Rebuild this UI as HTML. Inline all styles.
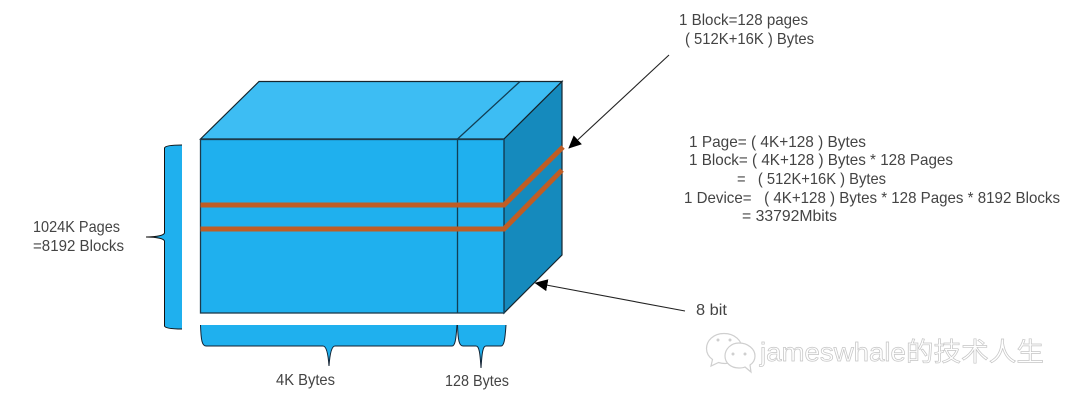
<!DOCTYPE html>
<html><head><meta charset="utf-8"><style>
html,body{margin:0;padding:0;background:#fff;width:1080px;height:404px;overflow:hidden}
svg{display:block}
text{font-family:"Liberation Sans","Noto Sans CJK SC",sans-serif;font-size:16px;fill:#444;white-space:pre}
</style></head><body>
<svg width="1080" height="404" viewBox="0 0 1080 404" xmlns="http://www.w3.org/2000/svg">
<defs><marker id="a" markerWidth="13" markerHeight="12" refX="12" refY="6" orient="auto" markerUnits="userSpaceOnUse"><path d="M0 0L13 6L0 12Z" fill="#000"/></marker></defs>
<!-- cube -->
<polygon points="200.5,139 259,81.5 562,81.5 504,139" fill="#3dbdf3" stroke="#16252d" stroke-width="1.200"/>
<polygon points="504,139 562,81.5 562,255 504,313" fill="#158abd" stroke="#16252d" stroke-width="1.200"/>
<rect x="200.5" y="139.5" width="303.5" height="173.5" fill="#1fb0ee" stroke="#1d3a4a" stroke-width="1.300"/>
<path d="M457.500 139.500V313M457.500 139L520 81.500" fill="none" stroke="#123f55" stroke-width="1.300"/>
<path d="M504 139.500V313" stroke="#124a66" stroke-width="1.300"/>
<!-- orange bands -->
<path d="M200.500 205H504L563 147" fill="none" stroke="#bf5d24" stroke-width="5"/>
<path d="M200.500 229H504L562 170" fill="none" stroke="#bf5d24" stroke-width="5"/>
<!-- left brace -->
<path d="M182 145C172 145 165 146 164.500 148V233C164 235 158 237 146 237C158 237 164 239 164.500 241V326C165 328 172 329 182 329Z" fill="#1fb0ee"/>
<path d="M182 145C172 145 165 146 164.500 148V233C164 235 158 237 146 237C158 237 164 239 164.500 241V326C165 328 172 329 182 329" fill="none" stroke="#111" stroke-width="1"/>
<!-- bottom braces -->
<path d="M200.500 325C201 340 202 346 206 346H323C326 346 328 352 329 366C330 352 332 346 335 346H452C455 346 456 340 457 325Z" fill="#1fb0ee"/>
<path d="M200.500 325C201 340 202 346 206 346H323C326 346 328 352 329 366C330 352 332 346 335 346H452C455 346 456 340 457 325" fill="none" stroke="#123" stroke-width="1"/>
<path d="M457.500 325C458 340 459 346 463 346H476C479 346 480 352 481 368C482 352 483 346 486 346H501C504 346 505 340 506 325Z" fill="#1fb0ee"/>
<path d="M457.500 325C458 340 459 346 463 346H476C479 346 480 352 481 368C482 352 483 346 486 346H501C504 346 505 340 506 325" fill="none" stroke="#123" stroke-width="1"/>
<!-- arrows -->
<line x1="669" y1="55" x2="569" y2="148" stroke="#222" stroke-width="1.100" marker-end="url(#a)"/>
<line x1="685" y1="311" x2="535.500" y2="283" stroke="#222" stroke-width="1.100" marker-end="url(#a)"/>
<!-- labels -->
<text x="679" y="25" textLength="129" lengthAdjust="spacingAndGlyphs">1 Block=128 pages</text>
<text x="685" y="44" textLength="129" lengthAdjust="spacingAndGlyphs">( 512K+16K ) Bytes</text>
<text x="689" y="147" textLength="177" lengthAdjust="spacingAndGlyphs">1 Page= ( 4K+128 ) Bytes</text>
<text x="689" y="165" textLength="264" lengthAdjust="spacingAndGlyphs">1 Block= ( 4K+128 ) Bytes * 128 Pages</text>
<text x="737" y="184" textLength="149" lengthAdjust="spacingAndGlyphs">=   ( 512K+16K ) Bytes</text>
<text x="684" y="203" textLength="376" lengthAdjust="spacingAndGlyphs">1 Device=   ( 4K+128 ) Bytes * 128 Pages * 8192 Blocks</text>
<text x="742" y="221" textLength="95" lengthAdjust="spacingAndGlyphs">= 33792Mbits</text>
<text x="33" y="232" textLength="87" lengthAdjust="spacingAndGlyphs">1024K Pages</text>
<text x="33" y="251" textLength="91" lengthAdjust="spacingAndGlyphs">=8192 Blocks</text>
<text x="276" y="385" textLength="59" lengthAdjust="spacingAndGlyphs">4K Bytes</text>
<text x="445" y="386" textLength="64" lengthAdjust="spacingAndGlyphs">128 Bytes</text>
<text x="696" y="315" textLength="31" lengthAdjust="spacingAndGlyphs">8 bit</text>
<!-- watermark -->
<g fill="#fff" stroke="#cfcfcf" stroke-width="1.200">
<path d="M724 333.500C713 333.500 706.500 341 706.500 348.500C706.500 353 709 357 712.500 359.500L711 366L718.500 362.500C721 363.300 723 363.500 725 363.500C736 363.500 742 356 742 348.500C742 341 735 333.500 724 333.500Z"/>
<path d="M739 343C731 343 725 349 725 356C725 363 731 368 739 368C741 368 743 368 745 367L751 372L750 365C753 363 755 360 755 356C755 349 748 343 739 343Z"/>
</g>
<g fill="#cfcfcf"><circle cx="718" cy="340" r="1.500"/><circle cx="730" cy="340" r="1.500"/><circle cx="733" cy="354" r="1.500"/><circle cx="745" cy="354" r="1.500"/></g>
<text x="760" y="361" textLength="284" lengthAdjust="spacingAndGlyphs" style="font-size:26px;fill:#fff;stroke:#c6c6c6;stroke-width:.7">jameswhale的技术人生</text>
</svg>
</body></html>
